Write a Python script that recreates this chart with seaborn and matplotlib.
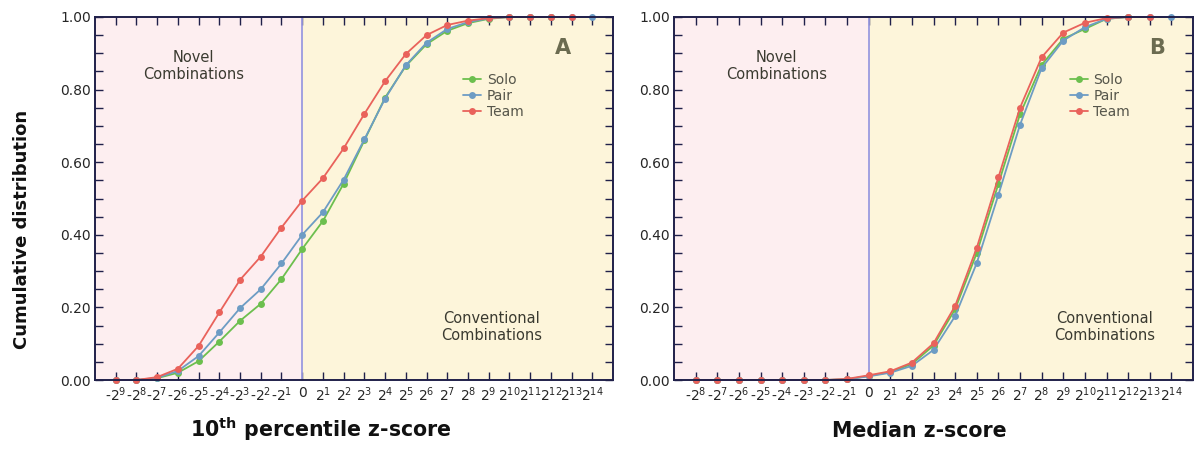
import numpy as np
import pandas as pd
import matplotlib
matplotlib.use("Agg")
import matplotlib.pyplot as plt
from matplotlib.ticker import MultipleLocator, FormatStrFormatter
import seaborn as sns

# ---------------- data ----------------
groups = ["Solo", "Pair", "Team"]

# Panel A: 10th percentile z-score, tick categories -2^9 ... 2^14
a_labels = ["-$2^{9}$", "-$2^{8}$", "-$2^{7}$", "-$2^{6}$", "-$2^{5}$", "-$2^{4}$",
            "-$2^{3}$", "-$2^{2}$", "-$2^{1}$", "0", "$2^{1}$", "$2^{2}$", "$2^{3}$",
            "$2^{4}$", "$2^{5}$", "$2^{6}$", "$2^{7}$", "$2^{8}$", "$2^{9}$", "$2^{10}$",
            "$2^{11}$", "$2^{12}$", "$2^{13}$", "$2^{14}$"]
a_solo = [0, 0, 0.005, 0.02, 0.052, 0.106, 0.163, 0.21, 0.278, 0.361, 0.438, 0.541,
          0.66, 0.778, 0.865, 0.925, 0.962, 0.983, 0.995, 1.0, 1.0, 1.0, None, None]
a_pair = [0, 0, 0.006, 0.025, 0.066, 0.131, 0.198, 0.25, 0.321, 0.40, 0.462, 0.552,
          0.663, 0.775, 0.867, 0.929, 0.967, 0.986, 0.996, 1.0, 1.0, 1.0, 1.0, 1.0]
a_team = [0, 0, 0.008, 0.031, 0.094, 0.186, 0.276, 0.34, 0.42, 0.494, 0.556, 0.638,
          0.733, 0.823, 0.898, 0.95, 0.978, 0.99, 0.997, 1.0, 1.0, 1.0, 1.0, None]

# Panel B: median z-score, tick categories -2^8 ... 2^14
b_labels = ["-$2^{8}$", "-$2^{7}$", "-$2^{6}$", "-$2^{5}$", "-$2^{4}$", "-$2^{3}$",
            "-$2^{2}$", "-$2^{1}$", "0", "$2^{1}$", "$2^{2}$", "$2^{3}$", "$2^{4}$",
            "$2^{5}$", "$2^{6}$", "$2^{7}$", "$2^{8}$", "$2^{9}$", "$2^{10}$",
            "$2^{11}$", "$2^{12}$", "$2^{13}$", "$2^{14}$"]
b_solo = [0, 0, 0, 0, 0, 0, 0, 0.002, 0.011, 0.022, 0.044, 0.095, 0.195, 0.35,
          0.54, 0.732, 0.868, 0.94, 0.967, 0.995, 1.0, None, None]
b_pair = [0, 0, 0, 0, 0, 0, 0, 0.002, 0.01, 0.02, 0.039, 0.083, 0.176, 0.322,
          0.51, 0.703, 0.859, 0.935, 0.972, 0.995, 1.0, 1.0, 1.0]
b_team = [0, 0, 0, 0, 0, 0, 0, 0.003, 0.013, 0.024, 0.048, 0.101, 0.204, 0.364,
          0.558, 0.75, 0.889, 0.957, 0.984, 0.997, 1.0, 1.0, None]

colors = {"Solo": "#6cbf4e", "Pair": "#6d9cc4", "Team": "#e9625b"}
pink_bg = "#fdeef0"
yellow_bg = "#fdf5da"
spine_col = "#20204a"
note_col = "#3a3a30"


def make_df(labels, series):
    zero = labels.index("0")
    rows = []
    for g, vals in zip(groups, series):
        for i, v in enumerate(vals):
            if v is not None:
                rows.append({"pos": i - zero, "value": v, "group": g})
    return pd.DataFrame(rows), zero


sns.set_theme(style="white")
plt.rcParams["font.family"] = ["DejaVu Sans"]

fig = plt.figure(figsize=(11.96, 4.49), dpi=100)
ax_a = fig.add_axes([95 / 1196, 69 / 449, 518 / 1196, 363 / 449])
ax_b = fig.add_axes([674 / 1196, 69 / 449, 519 / 1196, 363 / 449])

panels = [
    (ax_a, a_labels, [a_solo, a_pair, a_team], "A", 0.70, 0.904, 0.19, 0.766,
     "10$^{\\mathbf{th}}$ percentile z-score", 321),
    (ax_b, b_labels, [b_solo, b_pair, b_team], "B", 0.752, 0.93, 0.197, 0.83,
     "Median z-score", 919),
]

for ax, labels, series, letter, leg_x, let_x, nov_x, conv_x, xlabel, xl_px in panels:
    df, zero = make_df(labels, series)
    xmin = -zero - 1
    xmax = len(labels) - zero
    ax.set_xlim(xmin, xmax)
    ax.set_ylim(0, 1)
    ax.axvspan(xmin, 0, color=pink_bg, zorder=0, lw=0)
    ax.axvspan(0, xmax, color=yellow_bg, zorder=0, lw=0)
    ax.axvline(0, color="#9a9ae0", lw=1.3, zorder=1)

    sns.lineplot(data=df, x="pos", y="value", hue="group", hue_order=groups,
                 palette=colors, marker="o", markersize=5, markeredgewidth=0,
                 lw=1.3, errorbar=None, ax=ax, zorder=3)
    for ln in ax.lines:
        ln.set_clip_on(False)

    ax.set_xticks(np.arange(len(labels)) - zero)
    ax.set_xticklabels(labels, fontsize=10)
    ax.yaxis.set_major_locator(MultipleLocator(0.2))
    ax.yaxis.set_minor_locator(MultipleLocator(0.05))
    ax.yaxis.set_major_formatter(FormatStrFormatter("%.2f"))
    ax.tick_params(axis="both", which="both", direction="in", top=True, right=True,
                   left=True, bottom=True, color=spine_col, width=1.0)
    ax.tick_params(axis="x", which="major", length=6, pad=4, labelsize=10)
    ax.tick_params(axis="y", which="major", length=6, pad=3, labelsize=10)
    ax.tick_params(axis="y", which="minor", length=6)
    for sp in ax.spines.values():
        sp.set_color(spine_col)
        sp.set_linewidth(1.4)
        sp.set_zorder(4)
        sp.set_visible(True)

    ax.set_xlabel("")
    ax.set_ylabel("")
    fig.text(xl_px / 1196, 1 - 437 / 449, xlabel, fontsize=14.8, fontweight="bold",
             ha="center", va="baseline", color="#111111")

    handles, leg_labels = ax.get_legend_handles_labels()
    ax.legend(handles, leg_labels, loc="upper left", bbox_to_anchor=(leg_x, 0.862),
              frameon=False, fontsize=10, handlelength=1.3, handletextpad=0.4,
              labelspacing=0.15, labelcolor="#55554a", borderaxespad=0)

    ax.text(let_x, 0.915, letter, transform=ax.transAxes, fontsize=15,
            fontweight="bold", color="#6b6b50", ha="center", va="center")
    ax.text(nov_x, 0.865, "Novel\nCombinations", transform=ax.transAxes,
            fontsize=10.5, color=note_col, ha="center", va="center", linespacing=1.2)
    ax.text(conv_x, 0.146, "Conventional\nCombinations", transform=ax.transAxes,
            fontsize=10.5, color=note_col, ha="center", va="center", linespacing=1.2)

fig.text(22 / 1196, 1 - 229 / 449, "Cumulative distribution", rotation=90, fontsize=13,
         fontweight="bold", ha="center", va="center", color="#111111")

fig.savefig("out.png", dpi=100)
